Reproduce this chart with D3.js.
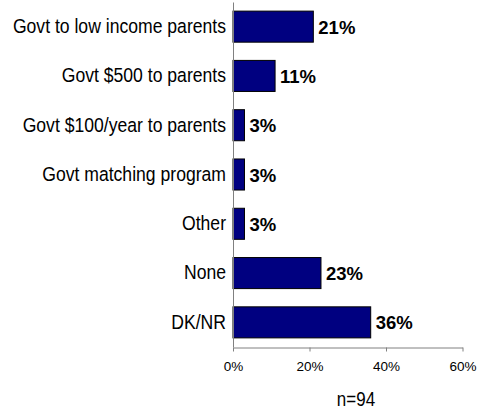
<!DOCTYPE html>
<html>
<head>
<meta charset="utf-8">
<script src="https://cdn.jsdelivr.net/npm/d3@7"></script>
<style>
  body { margin: 0; background: #fff; }
  svg { display: block; font-family: Arial, "Liberation Sans", sans-serif; }
</style>
</head>
<body>
<svg id="chart" width="478" height="410"></svg>
<script>
// Responses (share of respondents)
const categories = [
  "Govt to low income parents",
  "Govt $500 to parents",
  "Govt $100/year to parents",
  "Govt matching program",
  "Other",
  "None",
  "DK/NR"
];
const values = [21, 11, 3, 3, 3, 23, 36];
const tickValues = [0, 20, 40, 60];
const sampleNote = "n=94";

const svg = d3.select("#chart");

const x = d3.scaleLinear().domain([0, 60]).range([233, 462.5]);
const y = d3.scaleBand().domain(categories).range([2, 347]).paddingInner(0.37).paddingOuter(0.185);

// Bars
svg.append("g").selectAll("rect")
  .data(values)
  .join("rect")
  .attr("x", x(0))
  .attr("y", (d, i) => y(categories[i]))
  .attr("width", d => x(d) - x(0))
  .attr("height", y.bandwidth())
  .attr("fill", "#000080")
  .attr("stroke", "#000")
  .attr("stroke-width", 1);

// Value labels
svg.append("g").selectAll("text")
  .data(values)
  .join("text")
  .attr("x", d => x(d) + 5)
  .attr("y", (d, i) => y(categories[i]) + y.bandwidth() / 2)
  .attr("dy", "0.38em")
  .attr("font-size", 18.5)
  .attr("font-weight", "bold")
  .attr("fill", "#000")
  .text(d => d + "%");

// Category axis (labels slightly tall and narrow)
const yAxis = svg.append("g")
  .attr("transform", `translate(${x(0)},0)`)
  .call(d3.axisLeft(y).tickSize(0).tickPadding(7));
yAxis.select(".domain").attr("stroke", "#808080");
yAxis.selectAll("text")
  .attr("font-size", 17.6)
  .attr("fill", "#000")
  .attr("font-family", "Arial, 'Liberation Sans', sans-serif")
  .attr("transform", "scale(1,1.13)");

// Value axis
const xAxis = svg.append("g")
  .attr("transform", `translate(0,347.5)`)
  .call(d3.axisBottom(x).tickValues(tickValues).tickSize(4).tickPadding(10)
    .tickFormat(d => d + "%").tickSizeOuter(0));
xAxis.select(".domain").attr("stroke", "#808080");
xAxis.selectAll(".tick line").attr("stroke", "#808080");
xAxis.selectAll("text").attr("font-size", 13.5).attr("fill", "#000")
  .attr("font-family", "Arial, 'Liberation Sans', sans-serif");

// Sample size note
svg.append("text")
  .attr("transform", "translate(356,406) scale(1,1.15)")
  .attr("text-anchor", "middle")
  .attr("font-size", 17)
  .attr("fill", "#000")
  .text(sampleNote);
</script>
</body>
</html>
